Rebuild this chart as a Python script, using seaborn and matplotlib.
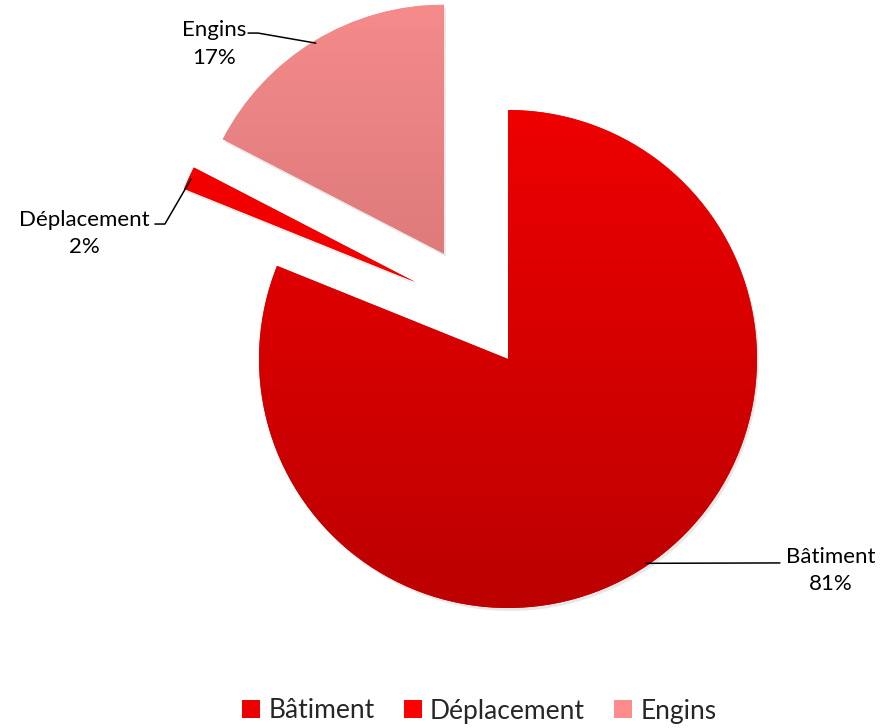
import numpy as np
import matplotlib
matplotlib.use("Agg")
import matplotlib.pyplot as plt
import seaborn as sns
from matplotlib.colors import LinearSegmentedColormap
from matplotlib.patches import Wedge

# data
categories = ["Bâtiment", "Déplacement", "Engins"]
shares = [81.1, 1.5, 17.4]
legend_colors = ["#EC0000", "#FF0000", "#FF8C8C"]
# vertical gradient (top, bottom) for each slice
grad_top = ["#EE0000", "#F20000", "#F58B8B"]
grad_bottom = ["#BC0000", "#F20000", "#C76A6A"]

sns.set_theme(style="white")
plt.rcParams["font.family"] = ["Lato", "DejaVu Sans"]

W, H = 880, 728
cx_px, cy_px, r_px = 508, 359, 249

fig = plt.figure(figsize=(W / 100, H / 100), dpi=100)
ax = fig.add_axes([0, 0, 1, 1])
ax.axis("off")

wedges, _ = ax.pie(shares, startangle=90, counterclock=False, radius=1.0,
                   colors=legend_colors, wedgeprops=dict(linewidth=0))

# explode distance / direction tweak per slice (Excel look)
explode = [0.0, 0.485, 0.495]
angle_shift = [0.0, -15.0, 0.0]

mids = []
for w, d, s in zip(wedges, explode, angle_shift):
    mid = np.deg2rad((w.theta1 + w.theta2) / 2)
    mids.append(mid)
    a = mid + np.deg2rad(s)
    w.set_center((d * np.cos(a), d * np.sin(a)))

# soft shadows + gradient fills
for i, w in enumerate(wedges):
    c = w.center
    sh = Wedge((c[0] + 0.008, c[1] - 0.012), w.r, w.theta1, w.theta2,
               facecolor="#000000", alpha=0.09, linewidth=0, zorder=0.5)
    ax.add_patch(sh)
    w.set_zorder(1)
    cmap = LinearSegmentedColormap.from_list("g%d" % i, [grad_bottom[i], grad_top[i]])
    grad = np.linspace(0, 1, 256).reshape(-1, 1)
    im = ax.imshow(grad, cmap=cmap, origin="lower", aspect="auto",
                   extent=[c[0] - 1, c[0] + 1, c[1] - 1, c[1] + 1], zorder=2)
    im.set_clip_path(w)

ax.set_xlim(-cx_px / r_px, (W - cx_px) / r_px)
ax.set_ylim(-(H - cy_px) / r_px, cy_px / r_px)

# labels with leader lines
label_pos = [(1.296, -0.85), (-1.70, 0.505), (-1.18, 1.265)]
elbows = [[(1.092, -0.819)], [(-1.378, 0.542), (-1.418, 0.542)], [(-1.004, 1.309), (-1.044, 1.309)]]
for i, w in enumerate(wedges):
    c = w.center
    ax_pt = (c[0] + 0.99 * np.cos(mids[i]), c[1] + 0.99 * np.sin(mids[i]))
    pts = [ax_pt] + elbows[i]
    ax.plot([p[0] for p in pts], [p[1] for p in pts], color="black", lw=1.1, zorder=3)
    ax.text(label_pos[i][0], label_pos[i][1],
            "%s\n%.0f%%" % (categories[i], shares[i]),
            ha="center", va="center", fontsize=16, color="black",
            linespacing=1.45, zorder=4)

handles = [plt.Line2D([], [], marker="s", linestyle="", markersize=13,
                      markerfacecolor=c, markeredgewidth=0) for c in legend_colors]
fig.legend(handles, categories, loc="center", bbox_to_anchor=(478 / W, 1 - 711 / H),
           ncol=3, frameon=False, fontsize=19, handletextpad=0.2,
           columnspacing=1.0, handlelength=0.9)

fig.savefig("out.png", dpi=100)
